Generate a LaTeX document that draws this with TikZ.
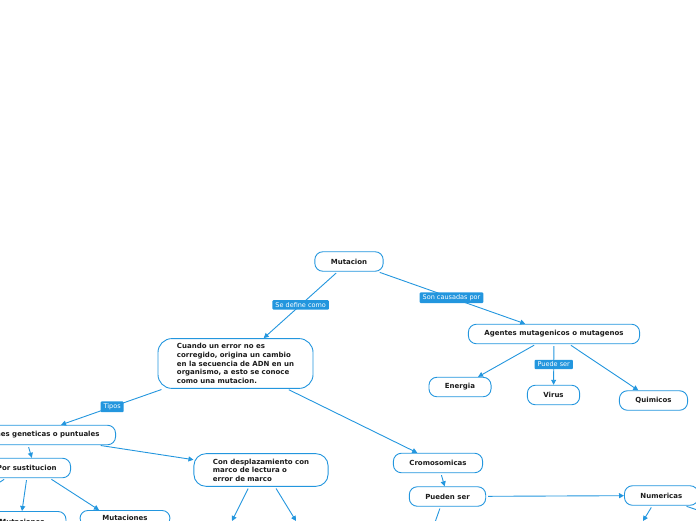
\documentclass[tikz,border=0pt]{standalone}
\usepackage{fontspec}
\setmainfont{DejaVu Sans}
\usetikzlibrary{arrows.meta}
\definecolor{mmblue}{RGB}{35,150,222}
\definecolor{mmtext}{RGB}{28,28,28}
\tikzset{
  topic/.style={draw=mmblue, line width=0.9pt, fill=white, rounded corners=8pt,
    inner xsep=16pt, minimum height=19.5pt, text=mmtext,
    font=\fontsize{7}{8.6}\selectfont\bfseries},
  tag/.style={fill=mmblue, text=white, rounded corners=1pt, inner xsep=3pt,
    inner ysep=2.2pt, font=\fontsize{6.5}{7}\selectfont},
  arr/.style={draw=mmblue, line width=0.9pt, shorten <=2pt,
    -{Triangle[length=5pt,width=5pt]}}
}
\begin{document}
\begin{tikzpicture}[x=1pt,y=-1pt]
\useasboundingbox (0,0) rectangle (696,520);
\clip (0,0) rectangle (696,520);

\node[topic] (mut) at (349,261.5) {Mutacion};
\node[topic, rounded corners=14pt, align=left, inner xsep=19pt, inner ysep=5pt] (def) at (235.5,363.5)
  {Cuando un error no es\\corregido, origina un cambio\\en la secuencia de ADN en un\\organismo, a esto se conoce\\como una mutacion.};
\node[topic] (agentes) at (554,334) {Agentes mutagenicos o mutagenos};
\node[topic] (energia) at (460,387) {Energia};
\node[topic] (virus) at (553.5,395) {Virus};
\node[topic] (quimicos) at (653.5,400.5) {Quimicos};

\node[topic, anchor=east] (gen) at (116,435) {Mutaciones geneticas o puntuales};
\node[topic, anchor=east, inner xsep=14pt] (por) at (71,468) {Por sustitucion};
\node[topic, anchor=north, minimum width=88pt, minimum height=0pt, inner ysep=7.5pt] (mut1) at (22,511) {Mutaciones};
\node[topic, anchor=north, minimum width=90pt, minimum height=0pt, inner ysep=5pt] (mut2) at (125,510) {Mutaciones};
\node[topic, rounded corners=12pt, align=left, inner xsep=19pt, inner ysep=5pt] (con) at (261,470)
  {Con desplazamiento con\\marco de lectura o\\error de marco};

\node[topic] (cromo) at (438,463) {Cromosomicas};
\node[topic] (pueden) at (447.5,496.5) {Pueden ser};
\node[topic, anchor=west] (num) at (624,495.5) {Numericas};

% free ends below the frame
\coordinate (offl) at (-12,490);
\coordinate (con1) at (232,521);
\coordinate (con2) at (296,521);
\coordinate (pue1) at (433,528);
\coordinate (num1) at (643,521);
\coordinate (num2) at (712,515);

\draw[arr] (mut) -- node[tag]{Se define como} (def);
\draw[arr] (mut) -- node[tag]{Son causadas por} (agentes);
\draw[arr] (agentes) -- (energia);
\draw[arr] (agentes) -- node[tag]{Puede ser} (virus);
\draw[arr] (agentes) -- (quimicos);

\draw[arr] (def) -- node[tag]{Tipos} (gen);
\draw[arr] (def) -- (cromo);
\draw[arr] (gen) -- (con);
\draw[arr] ([xshift=-4pt]gen.south) -- ([xshift=5pt]por.north);
\draw[arr] (por.south) -- (mut1.north);
\draw[arr] ([xshift=23pt]por.south) -- ([xshift=-26pt]mut2.north);
\draw[arr] ([xshift=-21pt]por.south) -- (offl);
\draw[arr] ([xshift=-12pt]con.south) -- (con1);
\draw[arr] ([xshift=14pt]con.south) -- (con2);

\draw[arr] (cromo) -- (pueden);
\draw[arr] (pueden) -- (num);
\draw[arr] ([xshift=-7pt]pueden.south) -- (pue1);
\draw[arr] ([xshift=-9pt]num.south) -- (num1);
\draw[arr] ([xshift=-14pt]num.south east) -- (num2);
\end{tikzpicture}
\end{document}
